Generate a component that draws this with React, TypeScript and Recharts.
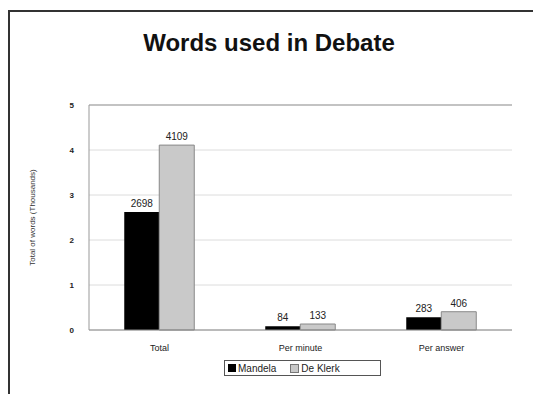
import { Bar, BarChart, CartesianGrid, LabelList, ReferenceLine, XAxis, YAxis } from "recharts";

const categories = ["Total", "Per minute", "Per answer"];
const mandela = [2.62, 0.084, 0.283];
const deKlerk = [4.109, 0.133, 0.406];
const mandelaLabels = ["2698", "84", "283"];
const deKlerkLabels = ["4109", "133", "406"];
const yTicks = [0, 1, 2, 3, 4, 5];

const font = "'Liberation Sans', Arial, sans-serif";

const data = categories.map((name, i) => ({
  name,
  mandela: mandela[i],
  deKlerk: deKlerk[i],
  mLabel: mandelaLabels[i],
  dLabel: deKlerkLabels[i],
}));

function LegendBox() {
  return (
    <div
      style={{
        position: "absolute",
        left: 216,
        top: 352,
        width: 152,
        height: 14,
        display: "flex",
        alignItems: "center",
        border: "1px solid #555",
        padding: "0 0 0 3px",
        fontSize: 10,
        fontFamily: font,
        color: "#222",
        background: "#fff",
      }}
    >
      <span style={{ width: 8, height: 8, background: "#000", display: "inline-block", marginRight: 2 }} />
      <span style={{ marginRight: 14 }}>Mandela</span>
      <span style={{ width: 7, height: 7, background: "#c9c9c9", border: "1px solid #777", display: "inline-block", marginRight: 2 }} />
      <span>De Klerk</span>
    </div>
  );
}

export default function App() {
  return (
    <div style={{ position: "relative", width: 533, height: 386, overflow: "hidden", background: "#fff" }}>
      <div
        style={{
          position: "absolute",
          left: 0,
          top: 2,
          width: 600,
          height: 500,
          borderTop: "2px solid #333",
          borderLeft: "2px solid #333",
        }}
      />
      <div
        style={{
          position: "absolute",
          left: 0,
          width: 522,
          top: 21,
          textAlign: "center",
          fontFamily: font,
          fontWeight: "bold",
          fontSize: 24,
          color: "#111",
        }}
      >
        Words used in Debate
      </div>
      <BarChart
        width={533}
        height={386}
        data={data}
        margin={{ top: 97, right: 29, left: 0, bottom: 40 }}
        barCategoryGap="25%"
        barGap={0}
        style={{ position: "absolute", left: 0, top: 0 }}
      >
        <CartesianGrid horizontal vertical={false} stroke="#dcdcdc" />
        <ReferenceLine y={5} stroke="#999" />
        <XAxis
          dataKey="name"
          tick={{ fill: "#222", fontSize: 9, fontFamily: font }}
          axisLine={{ stroke: "#888" }}
          tickLine={false}
          tickMargin={9}
          height={24}
        />
        <YAxis
          domain={[0, 5]}
          ticks={yTicks}
          width={81}
          tick={{ fill: "#222", fontSize: 8, fontFamily: font, fontWeight: "bold" }}
          axisLine={{ stroke: "#999" }}
          tickLine={false}
          tickMargin={9}
          label={{
            value: "Total of words (Thousands)",
            angle: -90,
            position: "insideLeft",
            offset: 24,
            style: { fill: "#333", fontSize: 8, fontFamily: font, textAnchor: "middle" },
          }}
        />
        <YAxis yAxisId="right" orientation="right" width={0} tick={false} axisLine={{ stroke: "#999" }} domain={[0, 5]} />
        <Bar dataKey="mandela" fill="#000" isAnimationActive={false}>
          <LabelList dataKey="mLabel" position="top" style={{ fill: "#222", fontSize: 10, fontFamily: font }} />
        </Bar>
        <Bar dataKey="deKlerk" fill="#c9c9c9" stroke="#888" strokeWidth={1} isAnimationActive={false}>
          <LabelList dataKey="dLabel" position="top" style={{ fill: "#222", fontSize: 10, fontFamily: font }} />
        </Bar>
      </BarChart>
      <LegendBox />
    </div>
  );
}
